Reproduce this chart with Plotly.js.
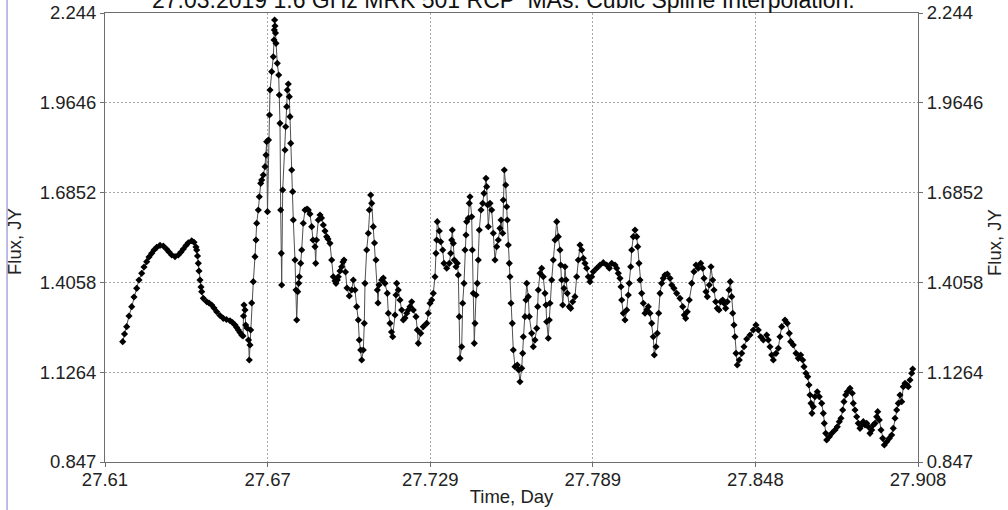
<!DOCTYPE html>
<html>
<head>
<meta charset="utf-8">
<script src="https://cdn.plot.ly/plotly-3.0.1.min.js"></script>
<style>html,body{margin:0;padding:0;background:#fff;}#chart{width:1008px;height:510px;}</style>
</head>
<body>
<div id="chart"></div>
<script>
const titleText = "27.03.2019 1.6 GHz MRK 501 RCP  MAs. Cubic Spline Interpolation.";
const xTitle = "Time, Day";
const yTitle = "Flux, JY";
const xTickVals = [27.61, 27.6696, 27.7292, 27.7888, 27.8484, 27.908];
const xTickText = ["27.61", "27.67", "27.729", "27.789", "27.848", "27.908"];
const yTickVals = [0.847, 1.1264, 1.4058, 1.6852, 1.9646, 2.244];
const yTickText = ["0.847", "1.1264", "1.4058", "1.6852", "1.9646", "2.244"];

const time = [
27.61649,27.61715,27.61795,27.61880,27.61979,27.62063,27.62162,27.62246,27.62345,27.62430,
27.62528,27.62613,27.62712,27.62796,27.62895,27.63016,27.63137,27.63262,27.63346,27.63445,
27.63566,27.63687,27.63786,27.63870,27.63969,27.64053,27.64178,27.64262,27.64336,27.64361,
27.64390,27.64420,27.64445,27.64482,27.64519,27.64544,27.64603,27.64728,27.64812,27.64911,
27.64995,27.65094,27.65215,27.65336,27.65453,27.65582,27.65673,27.65765,27.65827,27.65886,
27.65948,27.66011,27.66058,27.66077,27.66095,27.66132,27.66157,27.66205,27.66260,27.66289,
27.66315,27.66340,27.66377,27.66436,27.66498,27.66535,27.66560,27.66619,27.66656,27.66707,
27.66744,27.66802,27.66865,27.66901,27.66927,27.66956,27.66993,27.67030,27.67048,27.67110,
27.67169,27.67195,27.67206,27.67217,27.67231,27.67250,27.67268,27.67315,27.67367,27.67389,
27.67414,27.67440,27.67462,27.67477,27.67513,27.67598,27.67623,27.67660,27.67682,27.67719,
27.67755,27.67781,27.67807,27.67843,27.67880,27.67902,27.67964,27.68001,27.68027,27.68063,
27.68100,27.68122,27.68173,27.68210,27.68268,27.68331,27.68404,27.68452,27.68514,27.68576,
27.68624,27.68697,27.68723,27.68752,27.68818,27.68881,27.68936,27.69002,27.69064,27.69126,
27.69174,27.69247,27.69309,27.69368,27.69430,27.69467,27.69515,27.69551,27.69614,27.69676,
27.69724,27.69760,27.69815,27.69870,27.69955,27.70043,27.70101,27.70164,27.70226,27.70284,
27.70321,27.70372,27.70409,27.70468,27.70505,27.70530,27.70592,27.70651,27.70688,27.70739,
27.70776,27.70834,27.70878,27.70933,27.70981,27.71007,27.71043,27.71142,27.71201,27.71263,
27.71347,27.71384,27.71446,27.71501,27.71545,27.71630,27.71666,27.71692,27.71751,27.71813,
27.71875,27.71934,27.71996,27.72059,27.72117,27.72179,27.72242,27.72300,27.72399,27.72447,
27.72484,27.72572,27.72667,27.72792,27.72850,27.72913,27.72975,27.73034,27.73096,27.73132,
27.73158,27.73180,27.73253,27.73305,27.73378,27.73426,27.73525,27.73620,27.73671,27.73708,
27.73730,27.73767,27.73803,27.73866,27.73913,27.73950,27.73987,27.74012,27.74075,27.74111,
27.74159,27.74195,27.74232,27.74258,27.74316,27.74353,27.74379,27.74441,27.74463,27.74500,
27.74536,27.74562,27.74599,27.74646,27.74683,27.74720,27.74782,27.74844,27.74892,27.74965,
27.74991,27.75028,27.75050,27.75112,27.75174,27.75233,27.75295,27.75357,27.75416,27.75478,
27.75515,27.75577,27.75599,27.75636,27.75687,27.75724,27.75746,27.75783,27.75819,27.75845,
27.75882,27.75929,27.75966,27.76028,27.76112,27.76164,27.76211,27.76274,27.76310,27.76333,
27.76395,27.76431,27.76457,27.76516,27.76552,27.76640,27.76699,27.76761,27.76824,27.76860,
27.76882,27.76944,27.77007,27.77065,27.77128,27.77164,27.77190,27.77249,27.77285,27.77311,
27.77373,27.77432,27.77494,27.77557,27.77615,27.77678,27.77703,27.77740,27.77777,27.77824,
27.77861,27.77898,27.77945,27.78018,27.78070,27.78143,27.78227,27.78290,27.78348,27.78411,
27.78473,27.78532,27.78594,27.78656,27.78715,27.78777,27.78839,27.78898,27.79023,27.79144,
27.79265,27.79389,27.79485,27.79573,27.79694,27.79756,27.79815,27.79877,27.79914,27.79939,
27.79998,27.80060,27.80123,27.80181,27.80218,27.80269,27.80306,27.80365,27.80427,27.80489,
27.80526,27.80573,27.80610,27.80672,27.80731,27.80793,27.80856,27.80914,27.80976,27.81039,
27.81097,27.81134,27.81196,27.81244,27.81295,27.81343,27.81405,27.81464,27.81526,27.81611,
27.81710,27.81772,27.81856,27.81955,27.82076,27.82175,27.82234,27.82285,27.82344,27.82417,
27.82505,27.82589,27.82663,27.82747,27.82835,27.82908,27.82956,27.83029,27.83077,27.83150,
27.83212,27.83275,27.83322,27.83385,27.83443,27.83506,27.83568,27.83641,27.83689,27.83751,
27.83810,27.83872,27.83920,27.83971,27.84008,27.84055,27.84092,27.84129,27.84176,27.84250,
27.84338,27.84422,27.84521,27.84642,27.84763,27.84861,27.84946,27.85034,27.85130,27.85254,
27.85313,27.85375,27.85437,27.85496,27.85595,27.85679,27.85741,27.85804,27.85925,27.86009,
27.86082,27.86134,27.86229,27.86328,27.86412,27.86500,27.86574,27.86621,27.86694,27.86757,
27.86804,27.86841,27.86878,27.86914,27.86962,27.87024,27.87109,27.87182,27.87270,27.87329,
27.87365,27.87417,27.87453,27.87549,27.87637,27.87757,27.87842,27.87915,27.87977,27.88040,
27.88087,27.88150,27.88208,27.88307,27.88391,27.88428,27.88491,27.88553,27.88612,27.88674,
27.88736,27.88795,27.88857,27.88919,27.88978,27.89040,27.89103,27.89161,27.89224,27.89286,
27.89323,27.89381,27.89444,27.89506,27.89565,27.89652,27.89748,27.89836,27.89894,27.89957,
27.90019,27.90078,27.90140,27.90202,27.90261,27.90323,27.90386,27.90444,27.90507,27.90569,
27.90606
];

const flux = [
1.2213,1.2452,1.2680,1.3012,1.3302,1.3604,1.3874,1.4133,1.4341,1.4537,
1.4702,1.4848,1.4963,1.5066,1.5150,1.5212,1.5190,1.5088,1.5004,1.4910,
1.4858,1.4910,1.5004,1.5097,1.5206,1.5293,1.5355,1.5306,1.5159,1.5066,
1.4879,1.4652,1.4413,1.4133,1.3915,1.3769,1.3563,1.3457,1.3417,1.3355,
1.3261,1.3146,1.3028,1.2941,1.2904,1.2866,1.2810,1.2732,1.2655,1.2577,
1.2499,1.2421,1.2390,1.3012,1.3355,1.3199,1.2732,1.2639,1.2266,1.1643,
1.2110,1.2577,1.3417,1.4080,1.4858,1.5377,1.5897,1.6311,1.6724,1.7141,
1.7244,1.7400,1.7658,1.8022,1.8436,1.6258,1.8489,1.9266,2.0044,2.0614,
2.1080,2.1600,2.1911,2.2222,2.2036,2.1818,2.1497,2.0875,2.0511,1.9889,
1.9008,1.6311,1.4963,1.3977,1.6933,1.8177,1.8902,1.9525,2.0044,2.0231,
1.9836,1.9214,1.8386,1.7555,1.6880,1.5999,1.4755,1.3821,1.2888,1.3769,
1.4030,1.4235,1.4652,1.5066,1.5897,1.6311,1.6342,1.6311,1.6186,1.5791,
1.5377,1.5169,1.4652,1.5377,1.5999,1.6155,1.6062,1.5844,1.5657,1.5480,
1.5408,1.5274,1.4755,1.4235,1.4101,1.4030,1.4133,1.4235,1.4413,1.4546,
1.4693,1.4755,1.4381,1.3884,1.3635,1.3821,1.4133,1.3821,1.3302,1.2888,
1.2266,1.1955,1.1643,1.1955,1.2785,1.4030,1.5066,1.5586,1.6311,1.6777,
1.6519,1.5791,1.5284,1.4755,1.3821,1.3417,1.3977,1.4133,1.4195,1.4030,
1.3719,1.3097,1.2785,1.2515,1.2368,1.3044,1.3666,1.4030,1.3821,1.3510,
1.3199,1.2888,1.2950,1.3097,1.3199,1.3302,1.3457,1.3199,1.2991,1.2577,
1.2163,1.2474,1.2680,1.2785,1.3097,1.3408,1.3510,1.3719,1.4235,1.4963,
1.5377,1.5947,1.5657,1.5324,1.5066,1.4652,1.4497,1.4652,1.4963,1.5377,
1.5688,1.5274,1.4755,1.4546,1.4652,1.4288,1.2991,1.1696,1.2057,1.3408,
1.4030,1.5066,1.5533,1.5947,1.6052,1.6519,1.6724,1.6102,1.5066,1.3719,
1.2163,1.2785,1.3666,1.4030,1.4755,1.5688,1.6311,1.6519,1.6830,1.7297,
1.7036,1.6466,1.5791,1.6519,1.6311,1.5586,1.4755,1.5169,1.5377,1.5741,
1.5999,1.5586,1.6622,1.7555,1.7088,1.6413,1.5999,1.5222,1.4652,1.4235,
1.3408,1.2785,1.1955,1.1435,1.1488,1.1332,1.0968,1.1385,1.1852,1.2368,
1.2991,1.3510,1.4030,1.3613,1.2991,1.2474,1.2057,1.2266,1.2630,1.3302,
1.3821,1.4341,1.4497,1.4235,1.3719,1.3355,1.2835,1.2319,1.2888,1.3408,
1.4133,1.4755,1.5377,1.5947,1.5480,1.5066,1.4599,1.4133,1.3355,1.3874,
1.4546,1.4133,1.3719,1.3302,1.3252,1.3457,1.3613,1.4235,1.4755,1.5222,
1.5066,1.4808,1.4652,1.4497,1.4235,1.4080,1.4235,1.4391,1.4497,1.4599,
1.4671,1.4599,1.4497,1.4652,1.4599,1.4497,1.4341,1.4185,1.3924,1.3510,
1.3097,1.2888,1.3199,1.3666,1.4030,1.4546,1.5066,1.5480,1.5688,1.5480,
1.5169,1.4652,1.4133,1.3719,1.3408,1.3097,1.3199,1.3302,1.3097,1.2785,
1.2368,1.1799,1.2057,1.2474,1.3097,1.3719,1.4030,1.4185,1.4288,1.4319,
1.4185,1.3977,1.3874,1.3719,1.3563,1.3302,1.3044,1.2941,1.3146,1.3510,
1.4030,1.4391,1.4599,1.4497,1.4652,1.4497,1.4185,1.3769,1.3613,1.3977,
1.4546,1.4133,1.3821,1.3457,1.3252,1.3199,1.3457,1.3510,1.3408,1.3252,
1.3457,1.3821,1.4080,1.3613,1.3097,1.2732,1.2368,1.1852,1.1488,1.1643,
1.1852,1.2057,1.2297,1.2421,1.2577,1.2732,1.2577,1.2368,1.2266,1.2421,
1.2266,1.2057,1.1799,1.1643,1.1852,1.2008,1.2368,1.2680,1.2888,1.2785,
1.2474,1.2213,1.2110,1.1852,1.1696,1.1799,1.1643,1.1435,1.1230,1.1124,
1.0866,1.0555,1.0296,0.9985,1.0191,1.0502,1.0657,1.0502,1.0296,0.9985,
0.9674,0.9363,0.9154,0.9257,0.9363,0.9466,0.9568,0.9724,0.9830,1.0088,
1.0346,1.0555,1.0657,1.0763,1.0608,1.0296,1.0088,0.9879,0.9674,0.9518,
0.9621,0.9724,0.9621,0.9674,0.9568,0.9363,0.9466,0.9621,0.9674,0.9879,
1.0035,0.9777,0.9466,0.9207,0.8999,0.9101,0.9207,0.9310,0.9518,0.9830,
1.0088,1.0296,1.0555,1.0346,1.0813,1.0919,1.0866,1.0813,1.1021,1.1230,
1.1364
];

const FONT = '"Liberation Sans", Arial, sans-serif';
const TICK_SIZE = 18.5;

const traces = [
  {
    x: time, y: flux, type: 'scatter', mode: 'lines+markers',
    line: {color: '#505050', width: 1},
    marker: {symbol: 'diamond', size: 5.5, color: '#000000'},
    hoverinfo: 'x+y', showlegend: false
  },
  {
    x: time, y: flux, type: 'scatter', mode: 'lines', yaxis: 'y2',
    line: {color: 'rgba(0,0,0,0)', width: 0},
    hoverinfo: 'skip', showlegend: false
  }
];

const axisCommon = {
  showline: true, linecolor: '#6e6e6e', linewidth: 1,
  ticks: 'outside', ticklen: 4, tickcolor: '#6e6e6e',
  tickfont: {family: FONT, size: TICK_SIZE, color: '#222222'},
  zeroline: false, automargin: false
};

const layout = {
  width: 1008, height: 510,
  paper_bgcolor: '#ffffff', plot_bgcolor: '#ffffff',
  margin: {l: 105, r: 90, t: 13, b: 48},
  font: {family: FONT, color: '#222222'},
  xaxis: Object.assign({}, axisCommon, {
    range: [27.61, 27.908], tickmode: 'array', tickvals: xTickVals, ticktext: xTickText,
    showgrid: true, gridcolor: '#a8a8a8', griddash: '2px,2px', gridwidth: 1,
    mirror: true, ticklabelstandoff: -3,
    title: {text: xTitle, font: {family: FONT, size: TICK_SIZE, color: '#222222'}, standoff: 0}
  }),
  yaxis: Object.assign({}, axisCommon, {
    range: [0.847, 2.244], tickmode: 'array', tickvals: yTickVals, ticktext: yTickText,
    showgrid: true, gridcolor: '#a8a8a8', griddash: '2px,2px', gridwidth: 1,
    ticklabelstandoff: 0
  }),
  yaxis2: Object.assign({}, axisCommon, {
    range: [0.847, 2.244], tickmode: 'array', tickvals: yTickVals, ticktext: yTickText,
    overlaying: 'y', side: 'right', showgrid: false,
    ticklabelstandoff: 0
  }),
  annotations: [
    {
      text: titleText, xref: 'paper', yref: 'paper', x: 0.49, y: 1.028,
      xanchor: 'center', yanchor: 'middle', showarrow: false,
      font: {family: FONT, size: 23, color: '#111111'}
    },
    {
      text: yTitle, xref: 'paper', yref: 'paper', x: -0.1107, y: 0.49,
      xanchor: 'center', yanchor: 'middle', textangle: -90, showarrow: false,
      font: {family: FONT, size: TICK_SIZE, color: '#222222'}
    },
    {
      text: yTitle, xref: 'paper', yref: 'paper', x: 1.0947, y: 0.49,
      xanchor: 'center', yanchor: 'middle', textangle: -90, showarrow: false,
      font: {family: FONT, size: TICK_SIZE, color: '#222222'}
    }
  ],
  shapes: [{
    type: 'line', xref: 'paper', yref: 'paper',
    x0: -0.1205, x1: -0.1205, y0: -0.2, y1: 1.1,
    line: {color: '#7a7ac8', width: 1}
  }]
};

Plotly.newPlot('chart', traces, layout, {displayModeBar: false, staticPlot: true});
</script>
</body>
</html>
